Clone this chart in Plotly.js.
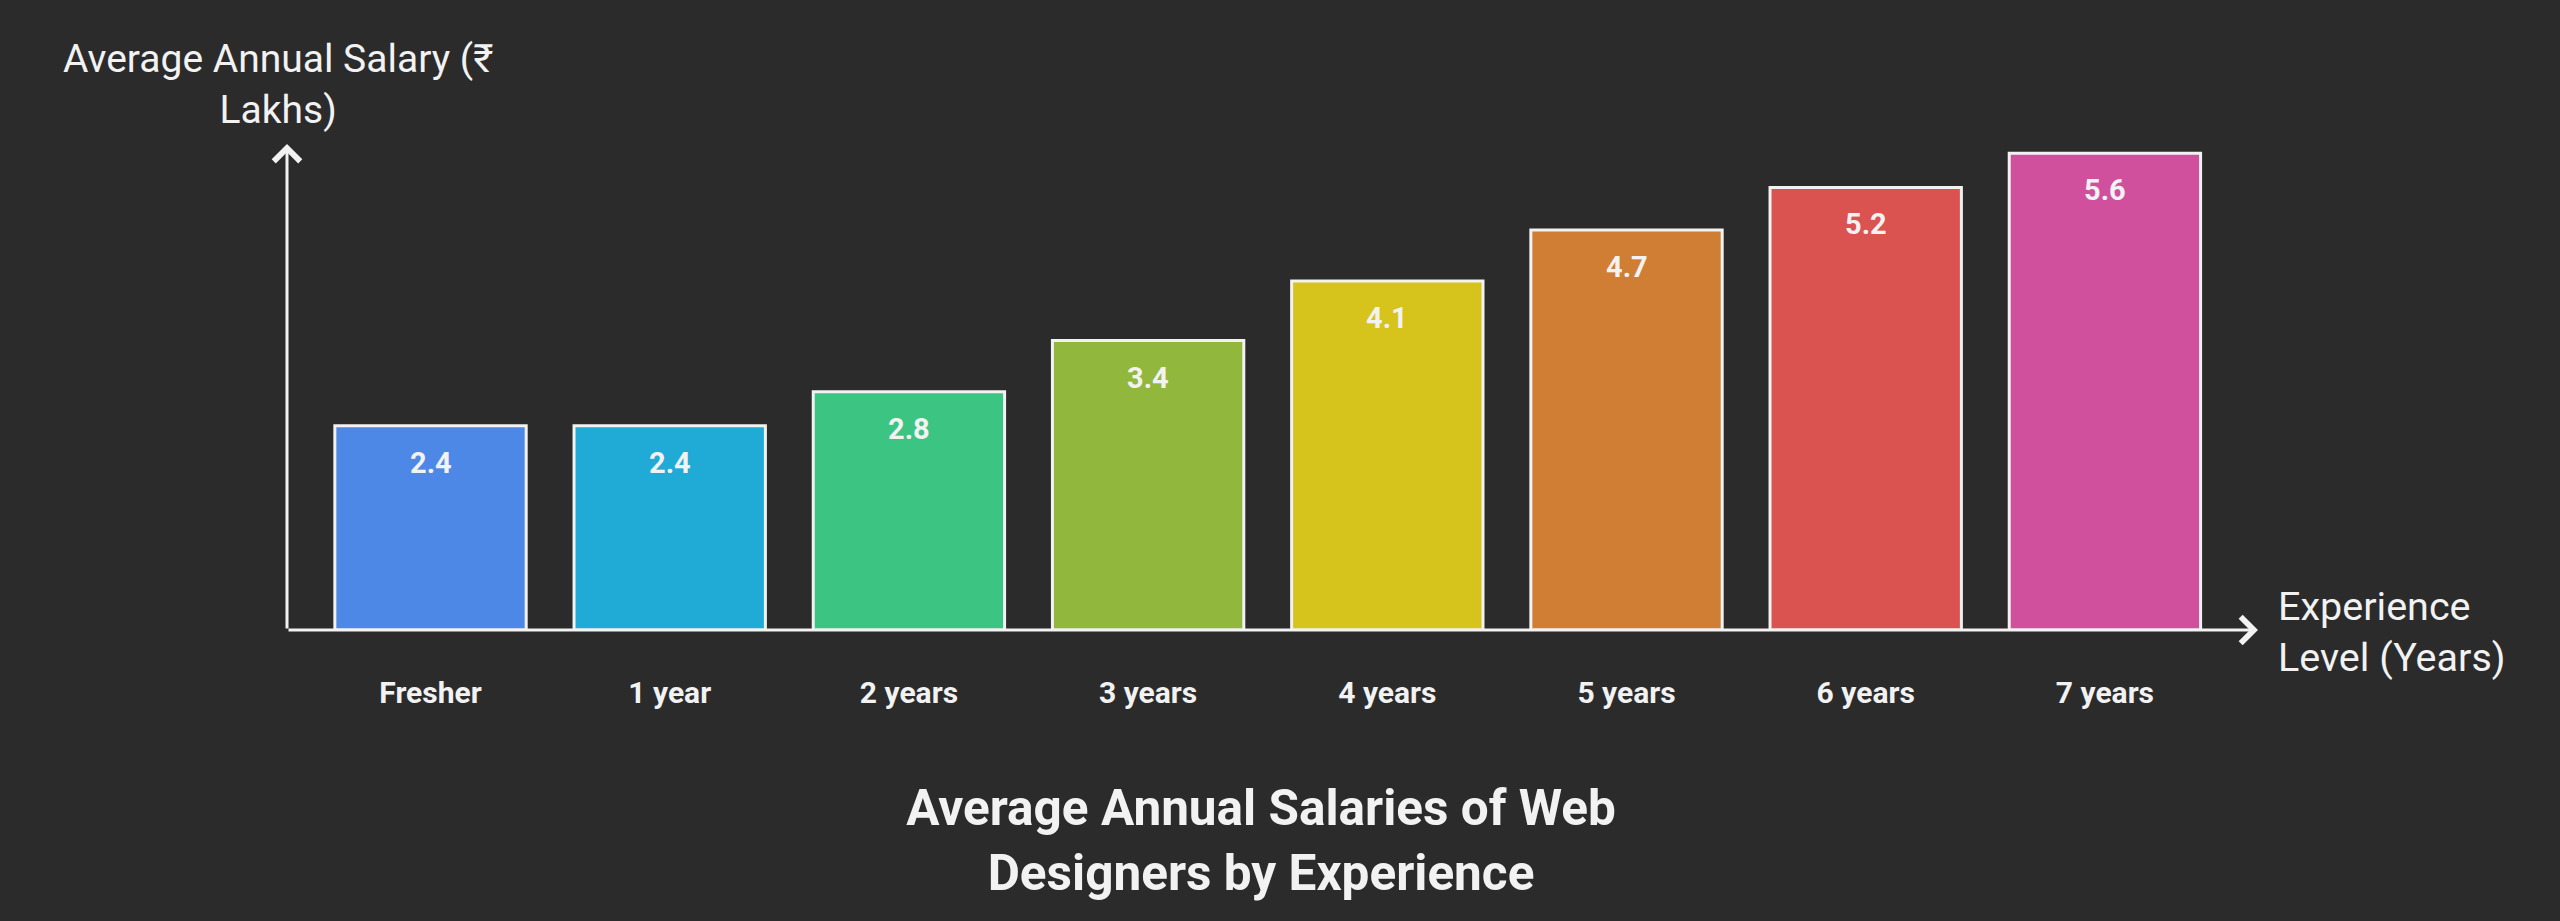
<!DOCTYPE html>
<html>
<head>
<meta charset="utf-8">
<script src="https://cdn.plot.ly/plotly-3.0.1.min.js"></script>
<style>
  html, body { margin: 0; padding: 0; background: #2b2b2b; }
  #myDiv { width: 2560px; height: 921px; }
</style>
</head>
<body>
<div id="myDiv"></div>
<script>
// values
let EXPERIENCE = ["Fresher", "1 year", "2 years", "3 years", "4 years", "5 years", "6 years", "7 years"];
let SALARY = [2.4, 2.4, 2.8, 3.4, 4.1, 4.7, 5.2, 5.6];
let BAR_COLORS = ["#4e88e6", "#20aad6", "#3cc483", "#91b73c", "#d6c31c", "#cf7e34", "#da5350", "#d0509e"];

const WHITE = "#f2f2f2";
const FONT = "Roboto, 'Noto Sans', sans-serif";

function doPlot() {
    let trace1 = {
        x: EXPERIENCE,
        y: SALARY,
        type: 'bar',
        width: 0.8,
        hoverinfo: 'x+y',
        marker: {
            color: BAR_COLORS,
            line: { color: WHITE, width: 3 }
        }
    };

    // value labels just under the top of each bar
    let valueLabels = EXPERIENCE.map((c, i) => ({
        x: c, y: SALARY[i], xref: 'x', yref: 'y',
        text: '<b>' + SALARY[i].toFixed(1) + '</b>',
        showarrow: false,
        yanchor: 'top', yshift: -18,
        font: { family: FONT, size: 29, color: WHITE }
    }));

    // axis lines with arrow heads
    let axisArrows = [
        {   // x axis
            x: 7.64, y: 0, ax: -0.6, ay: 0,
            xref: 'x', yref: 'y', axref: 'x', ayref: 'y',
            text: '', showarrow: true,
            arrowhead: 4, arrowsize: 1.7, arrowwidth: 3, arrowcolor: WHITE,
            standoff: 0, startstandoff: 0
        },
        {   // y axis
            x: -0.6, y: 5.71, ax: -0.6, ay: 0,
            xref: 'x', yref: 'y', axref: 'x', ayref: 'y',
            text: '', showarrow: true,
            arrowhead: 4, arrowsize: 1.7, arrowwidth: 3, arrowcolor: WHITE,
            standoff: 0, startstandoff: 0
        }
    ];

    let axisTitles = [
        {
            x: -0.6, y: 1, xref: 'x', yref: 'paper',
            text: 'Average Annual Salary (₹<br>Lakhs)',
            showarrow: false, xanchor: 'center', yanchor: 'bottom', yshift: 9, xshift: -9,
            align: 'center',
            font: { family: FONT, size: 39, color: WHITE }
        },
        {
            x: 1, y: 0, xref: 'paper', yref: 'y',
            text: 'Experience<br>Level (Years)',
            showarrow: false, xanchor: 'left', yanchor: 'middle', xshift: 18, yshift: -2,
            align: 'left',
            font: { family: FONT, size: 39.5, color: WHITE }
        }
    ];

    let layout = {
        autosize: false,
        width: 2560,
        height: 921,
        paper_bgcolor: '#2b2b2b',
        plot_bgcolor: '#2b2b2b',
        showlegend: false,
        margin: { l: 287, r: 302, t: 144, b: 291, pad: 0 },
        font: { family: FONT, color: WHITE },
        title: {
            text: '<b>Average Annual Salaries of Web<br>Designers by Experience</b>',
            font: { family: FONT, size: 49.5, color: WHITE },
            xref: 'container', yref: 'container',
            x: 0.4926, xanchor: 'center',
            y: 0.104, yanchor: 'middle'
        },
        xaxis: {
            type: 'category',
            range: [-0.6, 7.64],
            showline: false,
            showgrid: false,
            zeroline: false,
            ticks: '',
            ticklabelstandoff: 42,
            tickfont: { family: FONT, size: 30, color: WHITE, weight: 'bold' }
        },
        yaxis: {
            range: [0, 5.71],
            showline: false,
            showgrid: false,
            zeroline: false,
            showticklabels: false,
            ticks: ''
        },
        annotations: valueLabels.concat(axisArrows, axisTitles)
    };

    Plotly.newPlot('myDiv', [trace1], layout, { displayModeBar: false, staticPlot: true });
}

doPlot();
</script>
</body>
</html>
